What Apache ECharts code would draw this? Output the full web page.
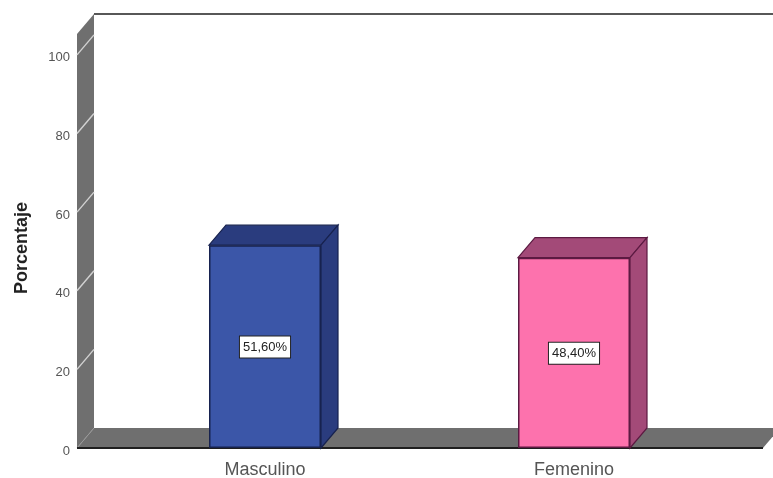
<!DOCTYPE html>
<html><head><meta charset="utf-8">
<style>html,body{margin:0;padding:0;background:#fff}#c{width:773px;height:478px;filter:blur(0.45px)}</style>
<script src="https://cdn.jsdelivr.net/npm/echarts@6/dist/echarts.min.js"></script>
</head><body><div id="c"></div>
<script>
const categories = ['Masculino', 'Femenino'];
const percentages = [51.6, 48.4];
const labels = ['51,60%', '48,40%'];
const yTicks = [0, 20, 40, 60, 80, 100];
const frontColors = ['#3b56a8', '#fd72ad'];
const darkColors = ['#2a3c7e', '#a34a78'];
const edgeColors = ['#17224f', '#5c1a42'];

const DX = 17, DY = -20, YOFF = 33.5, BW = 112, YMAX = 105.3;
const chart = echarts.init(document.getElementById('c'));

function renderFrame(params, api) {
  const cs = params.coordSys;
  const x0 = cs.x - YOFF, x1 = cs.x + cs.width + 34.5;
  const yb = api.coord([0, 0])[1], yt = api.coord([0, YMAX])[1];
  const wall = '#6f6f6f', line = '#1f1f1f';
  const poly = (pts, fill) => ({type: 'polygon', shape: {points: pts}, style: {fill}});
  const seg = (a, b, stroke, lw) => ({type: 'line', shape: {x1: a[0], y1: a[1], x2: b[0], y2: b[1]}, style: {stroke, lineWidth: lw}});
  const children = [
    poly([[x0, yt], [x0 + DX, yt + DY], [x0 + DX, yb + DY], [x0, yb]], wall),
    poly([[x0, yb], [x0 + DX, yb + DY], [x1 + DX, yb + DY], [x1, yb]], wall)
  ];
  yTicks.forEach(v => {
    if (v === 0) return;
    const y = api.coord([0, v])[1];
    children.push(seg([x0, y], [x0 + DX, y + DY], '#d2d2d2', 1.4));
  });
  children.push(seg([x0, yb], [x0 + DX, yb + DY], '#9a9a9a', 1));
  children.push(seg([x0 + DX, yt + DY], [773, yt + DY], line, 1.5));
  children.push(seg([x0, yb], [x1, yb], line, 2));
  return {type: 'group', children};
}

function renderBox(params, api) {
  const i = params.dataIndex;
  const c = api.coord([i, api.value(1)]);
  const yb = api.coord([i, 0])[1];
  const l = c[0] - BW / 2, r = c[0] + BW / 2, t = c[1];
  const st = {fill: darkColors[i], stroke: edgeColors[i], lineWidth: 1.2};
  return {type: 'group', children: [
    {type: 'polygon', shape: {points: [[l, t], [r, t], [r + DX, t + DY], [l + DX, t + DY]]}, style: st},
    {type: 'polygon', shape: {points: [[r, t], [r + DX, t + DY], [r + DX, yb + DY], [r, yb]]}, style: st}
  ]};
}

chart.setOption({
  animation: false,
  backgroundColor: '#fff',
  grid: {left: 110.5, right: 44.5, top: 34, bottom: 30, outerBoundsMode: 'none'},
  xAxis: {
    type: 'category', data: categories,
    axisLine: {show: false}, axisTick: {show: false},
    axisLabel: {color: '#555', fontFamily: 'Liberation Sans', fontSize: 18, margin: 13}
  },
  yAxis: {
    type: 'value', min: 0, max: YMAX, interval: 20, offset: YOFF,
    name: 'Porcentaje', nameLocation: 'middle', nameRotate: 90, nameGap: 46,
    nameTextStyle: {color: '#222', fontFamily: 'Liberation Sans', fontSize: 18, fontWeight: 'bold', padding: [0, 14, 0, 0]},
    splitLine: {show: false},
    axisLine: {show: false}, axisTick: {show: false},
    axisLabel: {color: '#555', fontFamily: 'Liberation Sans', fontSize: 13, margin: 7, showMaxLabel: false, verticalAlign: 'top', lineHeight: 6}
  },
  series: [
    {type: 'custom', z: 1, clip: false, silent: true, data: [[0, 0]], renderItem: renderFrame},
    {type: 'custom', z: 2, clip: false, silent: true, data: percentages.map((v, i) => [i, v]), renderItem: renderBox},
    {
      type: 'bar', z: 3, barWidth: BW,
      data: percentages.map((v, i) => ({
        value: v,
        itemStyle: {color: frontColors[i], borderColor: edgeColors[i], borderWidth: 1.5},
        label: {formatter: labels[i]}
      })),
      label: {
        show: true, position: 'inside', offset: [0, 0.5], color: '#222', fontFamily: 'Liberation Sans', fontSize: 13,
        backgroundColor: '#fff', borderColor: '#222', borderWidth: 1, padding: [4, 3, 4, 3]
      }
    }
  ]
});
</script></body></html>
